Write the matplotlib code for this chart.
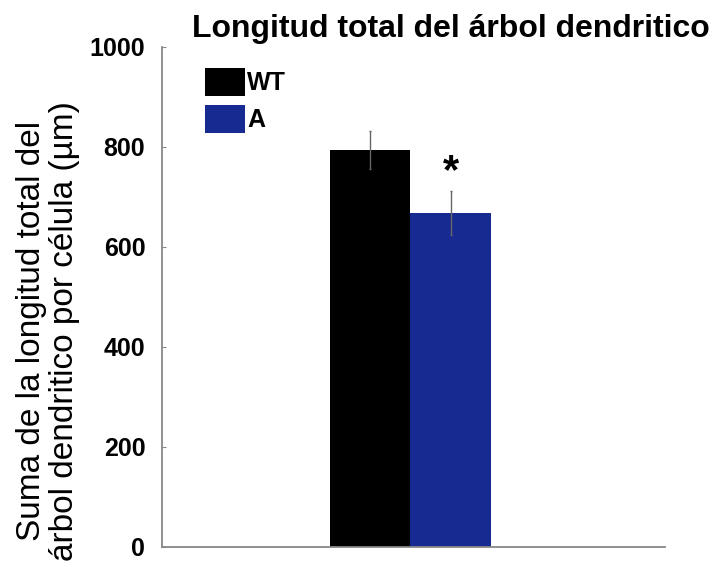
import matplotlib
matplotlib.use("Agg")
import matplotlib.pyplot as plt
import numpy as np

groups = ["WT", "A"]
values = [794, 668]
errors = [38, 44]
colors = ["#000000", "#172a91"]
yticks = [0, 200, 400, 600, 800, 1000]
title = "Longitud total del árbol dendritico"
ylabel = "Suma de la longitud total del\nárbol dendritico por célula (µm)"

plt.rcParams["font.family"] = ["Liberation Sans", "DejaVu Sans"]

fig = plt.figure(figsize=(7.18, 5.72), dpi=100)
ax = fig.add_axes([162/718, 1-547/572, 503/718, 500/572])

width = 0.32
center = -0.012
offsets = [-width/2, width/2]
for g, v, e, c, o in zip(groups, values, errors, colors, offsets):
    ax.bar(center + o, v, width=width, color=c, label=g, zorder=2)
    ax.errorbar(center + o, v, yerr=e, fmt="none", ecolor="#666666",
                elinewidth=1, capsize=1, zorder=3)

# significance marker above second bar
ax.text(center + offsets[1], values[1] + errors[1] + 38, "*",
        ha="center", va="center", fontsize=30, fontweight="bold")

ax.set_xlim(-1, 1)
ax.set_ylim(0, 1000)
ax.set_yticks(yticks)
ax.set_yticklabels([str(t) for t in yticks], fontsize=18, fontweight="bold")
ax.set_xticks([])
ax.tick_params(axis="y", direction="in", length=3, color="#888888", pad=12)
for s in ["top", "right"]:
    ax.spines[s].set_visible(False)
for s in ["left", "bottom"]:
    ax.spines[s].set_color("#888888")
    ax.spines[s].set_linewidth(1.3)

ax.set_title(title, fontsize=23, fontweight="bold", x=0.575, pad=7)
fig.text(48/718, 1-331/572, ylabel, fontsize=24, rotation=90,
         ha="center", va="center", multialignment="center", linespacing=1.1)

leg = ax.legend(loc="upper left", bbox_to_anchor=(43/503, 1-21/500), frameon=False,
                prop={"size": 18, "weight": "bold"}, handlelength=1.6,
                handleheight=1.35, handletextpad=0.08, labelspacing=0.35,
                borderpad=0, borderaxespad=0)

fig.savefig("out.png", dpi=100)
